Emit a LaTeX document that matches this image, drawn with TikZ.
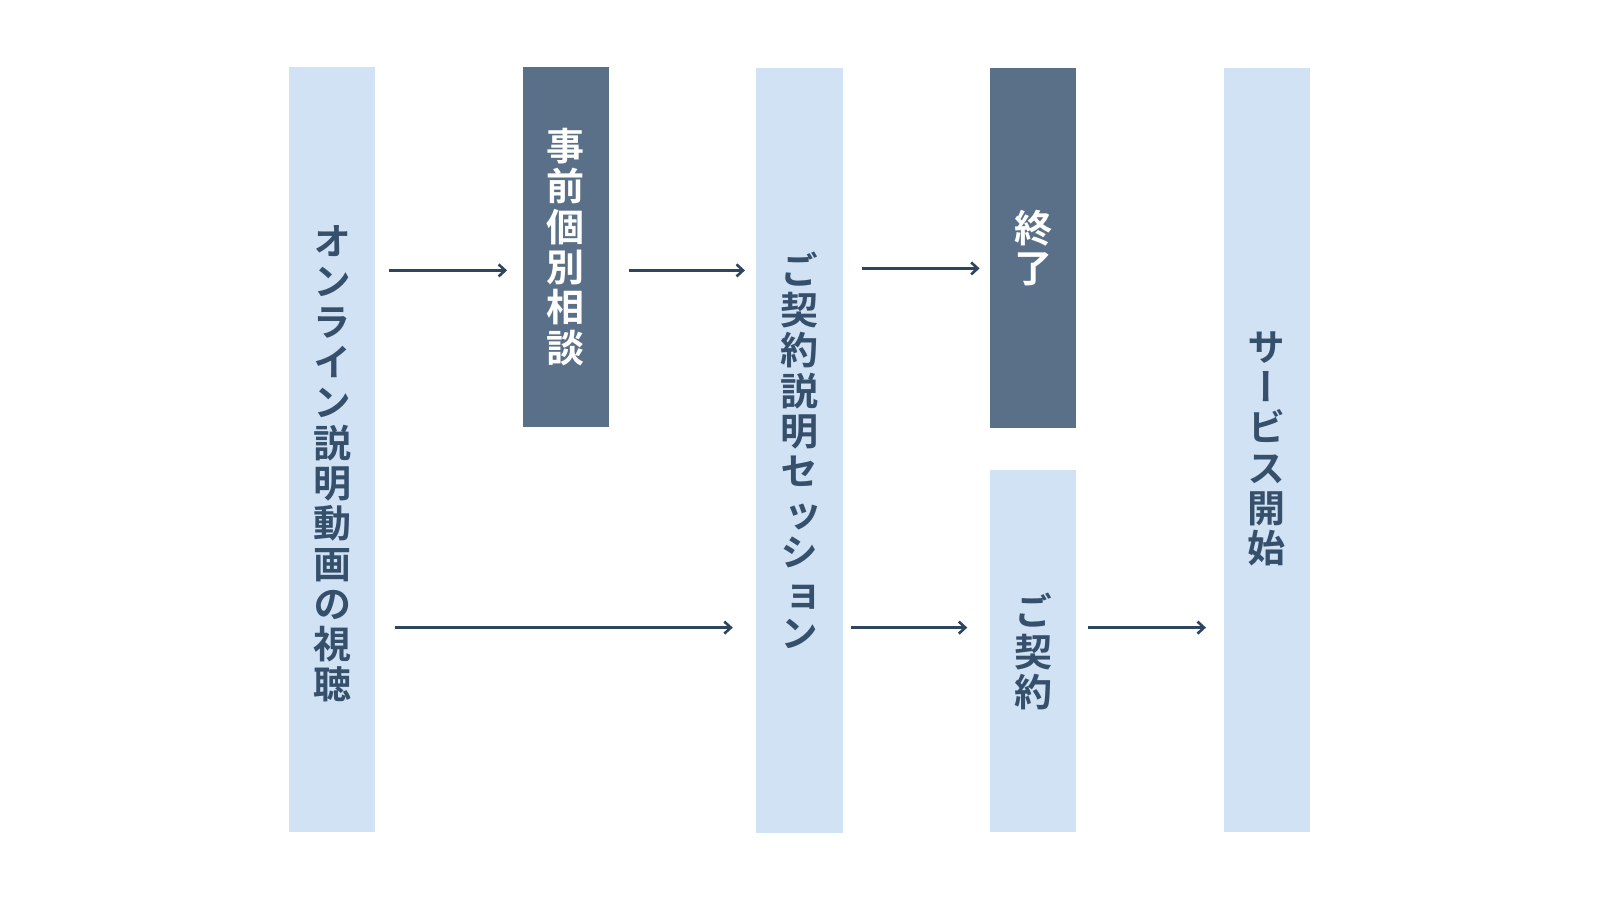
\documentclass[tikz,border=0pt]{standalone}
\usepackage{fontspec}
\newfontfamily\jpfont[RawFeature={+vert}]{Noto Sans CJK JP Bold}
\newfontfamily\jpplain{Noto Sans CJK JP Bold}
\newcommand{\smallkana}[1]{\hspace*{7pt}{\jpplain #1}}
\usetikzlibrary{arrows.meta,calc}
\definecolor{lightbox}{HTML}{D0E2F4}
\definecolor{darkbox}{HTML}{5A7089}
\definecolor{inktext}{HTML}{36506C}
\definecolor{arrowc}{HTML}{2E4560}
\tikzset{
  x=1pt,y=-1pt,
  colbox/.style={rectangle, inner sep=0pt, minimum width=86.5pt, draw=none},
  lightcol/.style={colbox, fill=lightbox},
  darkcol/.style={colbox, fill=darkbox},
  vtext/.style={inner sep=0pt, align=center, font=\jpfont\fontsize{38}{40.3}\selectfont},
  lighttext/.style={vtext, text=inktext},
  darktext/.style={vtext, text=white},
  flow/.style={draw=arrowc, line width=2.6pt, -{Straight Barb[length=6.5pt,width=12pt,line width=2.6pt]}}
}
\begin{document}
\begin{tikzpicture}
\useasboundingbox[fill=white] (0,0) rectangle (1600,900);
% columns
\node[lightcol, minimum height=764.3pt] (b1) at (332.2,449.5) {};
\node[darkcol, minimum height=359.2pt] (b2) at (565.8,246.9) {};
\node[lightcol, minimum height=764.3pt] (b3) at (799.5,450.5) {};
\node[darkcol, minimum height=359.2pt] (b4) at (1033.2,248.0) {};
\node[lightcol, minimum height=361.2pt] (b5) at (1033.2,651.0) {};
\node[lightcol, minimum height=763.2pt] (b6) at (1266.8,450.0) {};
% texts
\node[lighttext] (t1) at (332.2,464) {オ\\ン\\ラ\\イ\\ン\\説\\明\\動\\画\\の\\視\\聴};
\node[darktext] (t2) at (565.8,247) {事\\前\\個\\別\\相\\談};
\node[lighttext] (t3) at (799.5,450) {ご\\契\\約\\説\\明\\セ\\\smallkana{ッ}\\シ\\\smallkana{ョ}\\ン};
\node[darktext] (t4) at (1033.2,248) {終\\了};
\node[lighttext] (t5) at (1033.2,651.5) {ご\\契\\約};
\node[lighttext] (t6) at (1266.8,449) {サ\\ー\\ビ\\ス\\開\\始};
% arrows
\draw[flow, shorten <=13.3pt, shorten >=15.3pt] (b1.east |- 0,270.4) -- (b2.west |- 0,270.4);
\draw[flow, shorten <=19.4pt, shorten >=11.1pt] (b2.east |- 0,270.4) -- (b3.west |- 0,270.4);
\draw[flow, shorten <=19.2pt, shorten >=10.2pt] (b3.east |- 0,268.4) -- (b4.west |- 0,268.4);
\draw[flow, shorten <=19.4pt, shorten >=23.3pt] (b1.east |- 0,627.6) -- (b3.west |- 0,627.6);
\draw[flow, shorten <=8pt, shorten >=22.5pt] (b3.east |- 0,627.6) -- (b5.west |- 0,627.6);
\draw[flow, shorten <=11.3pt, shorten >=17.4pt] (b5.east |- 0,627.6) -- (b6.west |- 0,627.6);
\end{tikzpicture}
\end{document}
